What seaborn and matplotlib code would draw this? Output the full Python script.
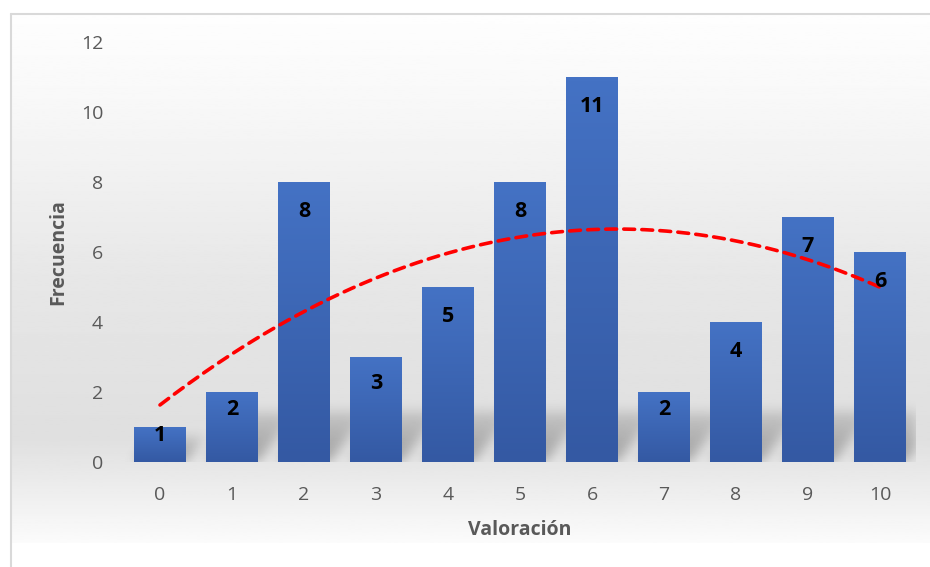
import numpy as np
import pandas as pd
import seaborn as sns
import matplotlib.pyplot as plt
from matplotlib.colors import LinearSegmentedColormap

valoracion = [0, 1, 2, 3, 4, 5, 6, 7, 8, 9, 10]
frecuencia = [1, 2, 8, 3, 5, 8, 11, 2, 4, 7, 6]

dados = pd.DataFrame({'Valoración': valoracion, 'Frecuencia': frecuencia})

sns.set_style('white')
plt.rcParams['font.family'] = ['Open Sans', 'DejaVu Sans']

fig = plt.figure(figsize=(9.3, 5.67), dpi=100)

# fondo con degradado y borde del gráfico
fondo = fig.add_axes([10/930, 24/567, 920/930, 530/567], zorder=0)
perfil = np.interp(np.linspace(0, 1, 300), [0, 0.15, 0.5, 0.8, 0.9, 1.0],
                   [0.995, 0.975, 0.905, 0.875, 0.93, 0.985])
fondo.imshow(perfil[:, None], cmap='gray', vmin=0, vmax=1, aspect='auto',
             extent=[0, 1, 0, 1])
fondo.axis('off')
fig.add_artist(plt.Line2D([10.5/930, 10.5/930], [0, 1 - 13.5/567], color='#d9d9d9', lw=1.5))
fig.add_artist(plt.Line2D([10.5/930, 1], [1 - 13.5/567, 1 - 13.5/567], color='#d9d9d9', lw=1.5))

ax = fig.add_axes([124/930, 105/567, 792/930, 420/567], zorder=1)
ax.patch.set_alpha(0)

sns.barplot(data=dados, x='Valoración', y='Frecuencia', color='#4472C4',
            width=0.72, saturation=1, linewidth=0, ax=ax, zorder=2)

# sombras difuminadas de las barras (perspectiva hacia arriba a la derecha)
W, H = 792, 420
sx, sy = W / 11, H / 12
yy, xx = np.mgrid[0:H, 0:W].astype(float)
mascara = np.zeros((H, W))
for p in ax.patches:
    x0 = (p.get_x() + 0.5) * sx
    x1 = x0 + p.get_width() * sx
    alto = min(50, p.get_height() * sy * 0.7)
    dentro = (yy <= alto) & (xx >= x0 + 0.75 * yy) & (xx <= x1 + 0.75 * yy)
    mascara[dentro] = np.maximum(mascara[dentro], (1 - 0.6 * yy[dentro] / alto))
k = np.exp(-0.5 * (np.arange(-18, 19) / 6.0) ** 2)
k /= k.sum()
mascara = np.apply_along_axis(lambda f: np.convolve(f, k, mode='same'), 0, mascara)
mascara = np.apply_along_axis(lambda f: np.convolve(f, k, mode='same'), 1, mascara)
sombra = np.zeros((H, W, 4))
sombra[..., 3] = mascara * 0.3
ax.imshow(sombra, origin='lower', aspect='auto', extent=[-0.5, 10.5, 0, 12], zorder=1.5)

# degradado de las barras
cmap_barra = LinearSegmentedColormap.from_list('barra', ['#3459A3', '#4472C4'])
for p in ax.patches:
    x0, w, h = p.get_x(), p.get_width(), p.get_height()
    im = ax.imshow(np.linspace(0, 1, 100)[:, None], cmap=cmap_barra, origin='lower',
                   aspect='auto', extent=[x0, x0 + w, 0, h], zorder=3)
    im.set_clip_path(p)

# etiquetas de datos
for i, v in enumerate(frecuencia):
    off = min(29, v * 35 * 0.25)
    ax.annotate(str(v), (i, v), xytext=(0, -off), textcoords='offset pixels',
                ha='center', va='center', fontsize=15.5, fontweight='bold',
                color='black', zorder=6)

# línea de tendencia polinómica (orden 2)
coef = np.polyfit(valoracion, frecuencia, 2)
xs = np.linspace(valoracion[0], valoracion[-1], 200)
ax.plot(xs, np.polyval(coef, xs), color='#FF0000', lw=2.6, ls=(0, (3, 2)),
        dash_capstyle='round', zorder=5)

ax.set_xlim(-0.5, 10.5)
ax.set_ylim(0, 12)
ax.set_yticks(range(0, 13, 2))
ax.tick_params(axis='both', length=0, labelsize=14, labelcolor='#595959')
ax.tick_params(axis='y', pad=15)
ax.tick_params(axis='x', pad=17)
sns.despine(ax=ax, left=True, bottom=True)

ax.set_xlabel('Valoración', fontsize=14, fontweight='bold', color='#595959')
ax.set_ylabel('Frecuencia', fontsize=14, fontweight='bold', color='#595959')
ax.xaxis.set_label_coords(0.5, -58/420)
ax.yaxis.set_label_coords(-56/792, 0.5)

plt.savefig('out.png', dpi=100)
